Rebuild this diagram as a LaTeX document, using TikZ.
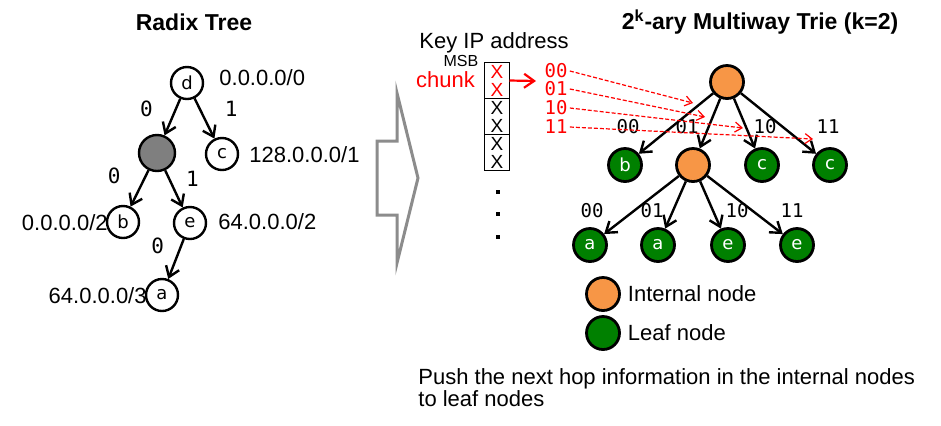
\documentclass[tikz,border=0pt]{standalone}
\usepackage{fontspec}
\setmainfont{Liberation Sans}
\setmonofont{DejaVu Sans Mono}
\newfontfamily\vtxfont{DejaVu Sans}
\definecolor{TrieOrange}{HTML}{F79646}
\definecolor{TrieGreen}{HTML}{008000}
\definecolor{RadixGray}{HTML}{7F7F7F}
\definecolor{ShiftGray}{HTML}{8C8C8C}
\usetikzlibrary{arrows.meta,positioning}

\begin{document}
\begin{tikzpicture}[x=0.5pt,y=-0.5pt,>={Straight Barb[length=5pt,width=7pt]},
    every node/.style={font=\fontsize{11}{11}\selectfont},
    vtx/.style={circle,draw,line width=1.2pt,minimum size=16pt,inner sep=0pt,font=\vtxfont\fontsize{9}{9}\selectfont},
    inode/.style={vtx,line width=1.4pt,minimum size=16.5pt,fill=TrieOrange},
    lnode/.style={vtx,line width=1.4pt,minimum size=16.5pt,fill=TrieGreen,text=white},
    bit/.style={font=\ttfamily\fontsize{9.5}{10}\selectfont,inner sep=1pt},
    rbit/.style={bit,font=\ttfamily\fontsize{10.5}{11}\selectfont},
    edge/.style={->,line width=1.2pt},
    hint/.style={->,red,dash pattern=on 2pt off 1pt,line width=0.6pt,>={Straight Barb[length=3.5pt,width=5pt]}},
    addr/.style={inner sep=0pt},
    cell/.style={draw,line width=0.6pt,outer sep=0pt,minimum width=12.5pt,minimum height=18pt,inner sep=0pt,align=center,font=\fontsize{9.5}{9}\selectfont},
    dotmark/.style={rectangle,fill,minimum size=2pt,inner sep=0pt}]
  \useasboundingbox (0,0) rectangle (941,425);

  % radix tree
  \node[font=\bfseries\fontsize{11.5}{12}\selectfont] (rtitle) at (194,22) {Radix Tree};
  \node[vtx] (d) at (187,83) {d};
  \node[vtx,fill=RadixGray,minimum size=18pt] (m) at (157,153) {};
  \node[vtx] (c) at (222,154) {c};
  \node[vtx] (b) at (123,222) {b};
  \node[vtx] (e) at (190,223) {e};
  \node[vtx] (a) at (162,295) {a};
  \node[addr,anchor=west] (pd) at (219,78) {0.0.0.0/0};
  \node[addr,anchor=west] (pc) at (249,155) {128.0.0.0/1};
  \node[addr,anchor=east] (pb) at (108,223) {0.0.0.0/2};
  \node[addr,anchor=west] (pe) at (218,222) {64.0.0.0/2};
  \node[addr,anchor=east] (pa) at (147,296) {64.0.0.0/3};
  \draw[edge] (d) -- node[rbit,pos=0.27,left=10pt]{0} (m);
  \draw[edge] (d) -- node[rbit,pos=0.25,right=11pt]{1} (c);
  \draw[edge] (m) -- node[rbit,pos=0.15,left=11pt]{0} (b);
  \draw[edge] (m) -- node[rbit,pos=0.22,right=7pt]{1} (e);
  \draw[edge] (e) -- node[rbit,pos=0.17,left=7pt]{0} (a);

  % shift arrow
  \draw[ShiftGray,line width=1.5pt] (377,141) -- (397,141) -- (397,93) -- (418,178)
    -- (397,263) -- (397,215) -- (377,215) -- cycle;

  % key
  \node (key) at (494,43) {Key IP address};
  \node[font=\fontsize{8}{9}\selectfont] (msb) at (461,61) {MSB};
  \node[anchor=east,text=red] (chunk) at (482,80) {chunk};
  \node[cell,text=red] (c1) at (497,80.5) {X\\X};
  \node[cell,below=0pt of c1] (c2) {X\\X};
  \node[cell,below=0pt of c2] (c3) {X\\X};
  \foreach \y [count=\i] in {192,214,237}
    \node[dotmark] (dot\i) at (498,\y) {};
  \coordinate (chunkend) at (536,81);
  \draw[->,red,line width=1.1pt] (c1.east) -- (chunkend);

  % trie
  \node[font=\bfseries\fontsize{11.5}{12}\selectfont] (ttitle) at (760,22) {2\textsuperscript{k}-ary Multiway Trie (k=2)};
  \node[inode] (r) at (727,82) {};
  \node[lnode] (t1) at (625,165) {b};
  \node[inode] (t2) at (693,165) {};
  \node[lnode] (t3) at (762,165) {c};
  \node[lnode] (t4) at (830,165) {c};
  \node[lnode] (u1) at (590,245) {a};
  \node[lnode] (u2) at (658,245) {a};
  \node[lnode] (u3) at (728,245) {e};
  \node[lnode] (u4) at (797,245) {e};
  \foreach \t in {t1,t2,t3,t4}
    \draw[edge] (r) -- (\t);
  \foreach \u in {u1,u2,u3,u4}
    \draw[edge] (t2) -- (\u);
  \node[bit,above=5.5pt of t1,xshift=1.5pt] (s00) {00};
  \node[bit,above=5.5pt of t2,xshift=-3pt] (s01) {01};
  \node[bit,above=5.5pt of t3,xshift=1.5pt] (s10) {10};
  \node[bit,above=5.5pt of t4,xshift=-1pt] (s11) {11};
  \node[bit,above=3.5pt of u1,xshift=1pt] (v00) {00};
  \node[bit,above=3.5pt of u2,xshift=-3pt] (v01) {01};
  \node[bit,above=3.5pt of u3,xshift=4.5pt] (v10) {10};
  \node[bit,above=3.5pt of u4,xshift=-2.5pt] (v11) {11};

  % chunk values
  \node[bit,text=red] (k00) at (556,71) {00};
  \node[bit,text=red] (k01) at (556,89) {01};
  \node[bit,text=red] (k10) at (556,108) {10};
  \node[bit,text=red] (k11) at (556,127) {11};
  \coordinate (h00) at (693,103);
  \coordinate (h01) at (705,117);
  \coordinate (h10) at (743,128);
  \coordinate (h11) at (813,139);
  \draw[hint] (k00.east) -- (h00);
  \draw[hint] (k01.east) -- (h01);
  \draw[hint] (k10.east) -- (h10);
  \draw[hint] (k11.east) -- (h11);

  % legend
  \node[inode] (legi) at (603,294) {};
  \node[anchor=west] (legit) at (legi.east) {Internal node};
  \node[lnode] (legl) at (603,333) {};
  \node[anchor=west] (leglt) at (legl.east) {Leaf node};
  \node[anchor=north west,align=left,inner sep=0pt] (note) at (418,368)
    {Push the next hop information in the internal nodes\\to leaf nodes};
\end{tikzpicture}
\end{document}
